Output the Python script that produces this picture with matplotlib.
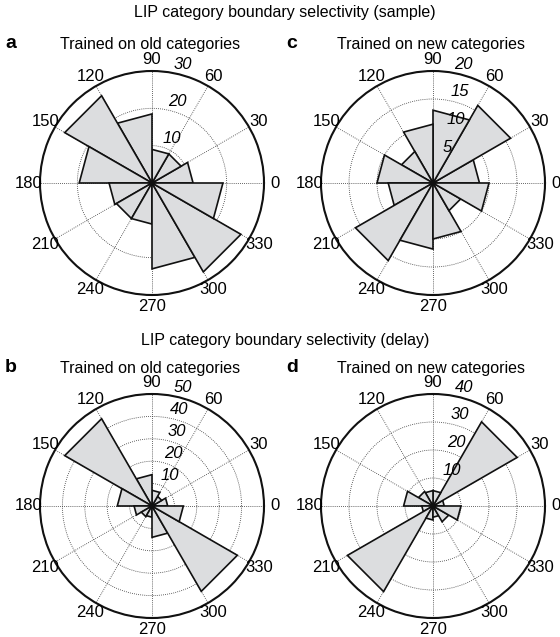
import numpy as np
import matplotlib
matplotlib.use('Agg')
import matplotlib.pyplot as plt

plt.rcParams['font.family'] = ['Liberation Sans', 'DejaVu Sans']

# bins of 30 deg: 0-30, 30-60, ..., 330-360
bin_edges = np.arange(0, 361, 30)
angle_labels = list(range(0, 360, 30))

old_sample = [11, 9, 9, 18.5, 27, 19.5, 11.5, 11, 11, 23, 27.5, 19]
new_sample = [8.3, 16, 13, 10.5, 6.5, 10, 8, 16, 11.8, 10, 5.7, 10]
old_delay = [7, 5, 7, 14, 45, 15.5, 8, 5.5, 5, 14, 44, 14]
new_delay = [4, 34.7, 5.5, 5.5, 6, 10.5, 4, 35.3, 5, 4, 6.5, 10]

rticks_a = [10, 20, 30]
rticks_c = [5, 10, 15, 20]
rticks_b = [10, 20, 30, 40, 50]
rticks_d = [10, 20, 30, 40]

W, H = 560, 637
fig = plt.figure(figsize=(W / 100, H / 100), dpi=100)


def rose(cx, cy, values, rticks):
    R = 112
    ax = fig.add_axes([(cx - R) / W, 1 - (cy + R) / H, 2 * R / W, 2 * R / H],
                      projection='polar')
    rmax = rticks[-1]
    ax.set_ylim(0, rmax)
    ax.set_xticks(np.deg2rad(angle_labels))
    ax.set_yticks(rticks)
    ax.set_xticklabels([])
    ax.set_yticklabels([])
    ax.grid(True, color='#333333', linestyle=(0, (1, 1.5)), linewidth=0.6)
    ax.spines['polar'].set_linewidth(1.5)
    ax.spines['polar'].set_color('#111111')

    for i, v in enumerate(values):
        t1, t2 = np.deg2rad(bin_edges[i]), np.deg2rad(bin_edges[i + 1])
        ax.fill([0, t1, t2, 0], [0, v, v, 0], facecolor='#dcdddf',
                edgecolor='#111111', linewidth=1.2, zorder=3)

    for a in angle_labels:
        ax.text(np.deg2rad(a), rmax * 1.1, str(a), ha='center', va='center',
                fontsize=12, clip_on=False)
    for r in rticks:
        ax.annotate(str(r), xy=(np.deg2rad(82), r + rmax / 60),
                    xytext=(4, -1), textcoords='offset points',
                    ha='left', va='bottom', fontsize=12, style='italic',
                    zorder=5, annotation_clip=False)
    return ax


rose(152, 183, old_sample, rticks_a)
rose(433, 183, new_sample, rticks_c)
rose(152, 506, old_delay, rticks_b)
rose(433, 506, new_delay, rticks_d)

fig.text(285 / W, 1 - 13 / H, 'LIP category boundary selectivity (sample)',
         ha='center', va='center', fontsize=11.5)
fig.text(285 / W, 1 - 340 / H, 'LIP category boundary selectivity (delay)',
         ha='center', va='center', fontsize=11.5)

subtitles = [(11, 44, 'a', 150, 'Trained on old categories'),
             (292, 44, 'c', 431, 'Trained on new categories'),
             (11, 368, 'b', 150, 'Trained on old categories'),
             (292, 368, 'd', 431, 'Trained on new categories')]
for lx, ly, letter, tx, txt in subtitles:
    fig.text(lx / W, 1 - ly / H, letter, ha='center', va='center',
             fontsize=14, fontweight='bold')
    fig.text(tx / W, 1 - ly / H, txt, ha='center', va='center', fontsize=11.5)

fig.savefig('out.png', dpi=100)
